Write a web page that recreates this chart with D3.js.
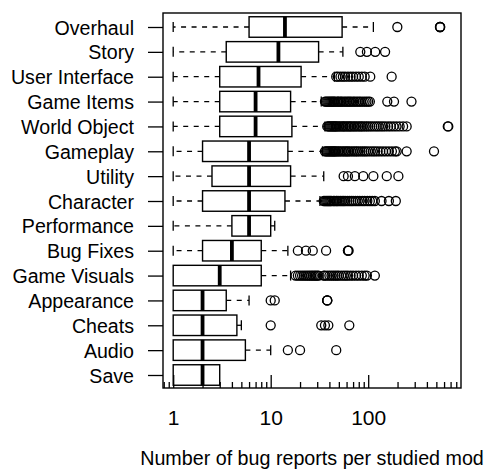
<!DOCTYPE html>
<html>
<head>
<meta charset="utf-8">
<script src="https://cdn.jsdelivr.net/npm/d3@7"></script>
<style>
  html, body { margin: 0; padding: 0; background: #fff; }
  svg { display: block; }
  text { font-family: "Liberation Sans", Arial, Helvetica, sans-serif; fill: #000; }
</style>
</head>
<body>
<svg id="chart" width="486" height="473"></svg>
<script>
// ---- data ----
const categories = ["Overhaul", "Story", "User Interface", "Game Items", "World Object",
  "Gameplay", "Utility", "Character", "Performance", "Bug Fixes", "Game Visuals",
  "Appearance", "Cheats", "Audio", "Save"];
const whiskerLow  = [1, 1, 1, 1, 1, 1, 1, 1, 1, 1, 1, 1, 1, 1, 1];
const q1          = [6, 3.5, 3, 3, 3, 2, 2.5, 2, 4, 2, 1, 1, 1, 1, 1];
const medians     = [14, 12, 7.5, 7, 7, 6, 6, 6, 6, 4, 3, 2, 2, 2, 2];
const q3          = [54, 31, 20.5, 16, 16.5, 15, 16, 14, 10, 8, 8, 3.5, 4.5, 5.5, 3];
const whiskerHigh = [113, 55, 45, 33, 36, 34, 35, 32, 11, 15, 16, 6, 5, 10, 3];
const outliers = [
  [199, 545, 545, 548],
  [83, 97, 118, 149],
  [47, 49, 52, 55, 58, 62, 66, 70, 75, 80, 86, 92, 105, 174],
  [36, 37, 38, 39, 40, 41, 42, 43, 44, 45, 46, 48, 49, 50, 52, 53, 55, 57, 59, 61, 63, 65, 67, 70, 72, 75, 78, 81, 84, 88, 92, 96, 100, 104, 157, 184, 278],
  [38, 39, 40, 41, 42, 43, 44, 45, 46, 47, 48, 50, 51, 53, 55, 56, 58, 60, 62, 64, 66, 68, 71, 73, 76, 79, 82, 85, 88, 92, 96, 100, 105, 110, 116, 122, 128, 135, 142, 150, 160, 170, 182, 195, 210, 228, 248, 655, 663],
  [36, 37, 38, 39, 40, 41, 42, 43, 44, 45, 46, 47, 49, 50, 52, 54, 56, 58, 60, 62, 64, 67, 70, 73, 76, 79, 83, 87, 91, 95, 100, 106, 112, 118, 125, 133, 142, 152, 163, 175, 188, 196, 248, 473],
  [56, 62, 73, 89, 113, 155, 204],
  [35, 36, 37, 38, 39, 40, 41, 42, 44, 45, 47, 48, 50, 52, 54, 56, 58, 61, 64, 67, 70, 74, 78, 82, 87, 92, 98, 104, 110, 117, 137, 163, 192],
  [],
  [19, 23, 27, 37, 62, 62, 63],
  [18, 19, 20, 21, 22, 23, 24, 25, 26, 27, 28, 29, 30, 31, 35, 36, 38, 40, 42, 44, 46, 48, 50, 53, 56, 59, 62, 66, 70, 75, 80, 86, 92, 97, 117],
  [10, 11, 38, 38, 38],
  [10, 33, 36, 39, 64],
  [15, 20, 47],
  []
];
const majorTicks = [1, 10, 100];
const minorTicks = [0.8, 0.9, 2, 3, 4, 5, 6, 7, 8, 9, 20, 30, 40, 50, 60, 70, 80, 90,
  200, 300, 400, 500, 600, 700, 800];
const xTitle = "Number of bug reports per studied mod";

// ---- layout ----
const plotLeft = 163, plotRight = 461, plotTop = 13, plotBottom = 388;
const svg = d3.select("#chart");

const x = d3.scaleLog().domain([0.786, 895]).range([plotLeft, plotRight]);
const y = d3.scalePoint().domain(categories).range([27, 375]);
const boxH = 20.5;
const capH = 10;

const rows = categories.map((c, i) => ({
  cat: c, lo: whiskerLow[i], q1: q1[i], med: medians[i], q3: q3[i], hi: whiskerHigh[i], out: outliers[i]
}));

const g = svg.append("g");

// whiskers
g.selectAll(".wl").data(rows.filter(d => d.lo < d.q1)).enter().append("line")
  .attr("x1", d => x(d.q1)).attr("x2", d => x(d.lo))
  .attr("y1", d => y(d.cat)).attr("y2", d => y(d.cat))
  .attr("stroke", "#000").attr("stroke-width", 1.3).attr("stroke-dasharray", "5,5.5");
g.selectAll(".wh").data(rows.filter(d => d.hi > d.q3)).enter().append("line")
  .attr("x1", d => x(d.q3)).attr("x2", d => x(d.hi))
  .attr("y1", d => y(d.cat)).attr("y2", d => y(d.cat))
  .attr("stroke", "#000").attr("stroke-width", 1.3).attr("stroke-dasharray", "5,5.5");
// staples
g.selectAll(".sl").data(rows.filter(d => d.lo < d.q1)).enter().append("line")
  .attr("x1", d => x(d.lo)).attr("x2", d => x(d.lo))
  .attr("y1", d => y(d.cat) - capH / 2).attr("y2", d => y(d.cat) + capH / 2)
  .attr("stroke", "#000").attr("stroke-width", 1.3);
g.selectAll(".sh").data(rows.filter(d => d.hi > d.q3)).enter().append("line")
  .attr("x1", d => x(d.hi)).attr("x2", d => x(d.hi))
  .attr("y1", d => y(d.cat) - capH / 2).attr("y2", d => y(d.cat) + capH / 2)
  .attr("stroke", "#000").attr("stroke-width", 1.3);

// boxes
g.selectAll(".box").data(rows).enter().append("rect")
  .attr("x", d => x(d.q1)).attr("width", d => x(d.q3) - x(d.q1))
  .attr("y", d => y(d.cat) - boxH / 2).attr("height", boxH)
  .attr("fill", "#fff").attr("stroke", "#000").attr("stroke-width", 1.4);
// medians
g.selectAll(".med").data(rows).enter().append("line")
  .attr("x1", d => x(d.med)).attr("x2", d => x(d.med))
  .attr("y1", d => y(d.cat) - boxH / 2).attr("y2", d => y(d.cat) + boxH / 2)
  .attr("stroke", "#000").attr("stroke-width", 3.8);

// outliers
const pts = [];
rows.forEach(r => r.out.forEach(v => pts.push({ cat: r.cat, v })));
g.selectAll(".out").data(pts).enter().append("circle")
  .attr("cx", d => x(d.v)).attr("cy", d => y(d.cat)).attr("r", 4.5)
  .attr("fill", "none").attr("stroke", "#000").attr("stroke-width", 1.3);

// frame
svg.append("rect").attr("x", plotLeft).attr("y", plotTop)
  .attr("width", plotRight - plotLeft).attr("height", plotBottom - plotTop)
  .attr("fill", "none").attr("stroke", "#000").attr("stroke-width", 1.4);

// y axis
const yAxis = svg.append("g").attr("transform", `translate(${plotLeft},0)`)
  .call(d3.axisLeft(y).tickSize(15).tickPadding(14));
yAxis.select(".domain").remove();
yAxis.selectAll(".tick line").attr("stroke", "#000").attr("stroke-width", 1.3);
yAxis.selectAll(".tick text").attr("font-size", "19.6px").attr("dy", "0.36em")
  .style("font-family", "'Liberation Sans', Arial, sans-serif");

// x axis major
const xMaj = svg.append("g").attr("transform", `translate(0,${plotBottom})`)
  .call(d3.axisBottom(x).tickValues(majorTicks).tickFormat(d3.format("d")).tickSize(-13).tickPadding(22));
xMaj.select(".domain").remove();
xMaj.selectAll(".tick line").attr("stroke", "#000").attr("stroke-width", 1.3);
xMaj.selectAll(".tick text").attr("font-size", "21px")
  .style("font-family", "'Liberation Sans', Arial, sans-serif");

// x axis minor
const xMin = svg.append("g").attr("transform", `translate(0,${plotBottom})`)
  .call(d3.axisBottom(x).tickValues(minorTicks).tickFormat("").tickSize(-6));
xMin.select(".domain").remove();
xMin.selectAll(".tick line").attr("stroke", "#000").attr("stroke-width", 1.3);

// x title
svg.append("text").attr("x", 312).attr("y", 465).attr("text-anchor", "middle")
  .attr("font-size", "19.7px").text(xTitle);
</script>
</body>
</html>
